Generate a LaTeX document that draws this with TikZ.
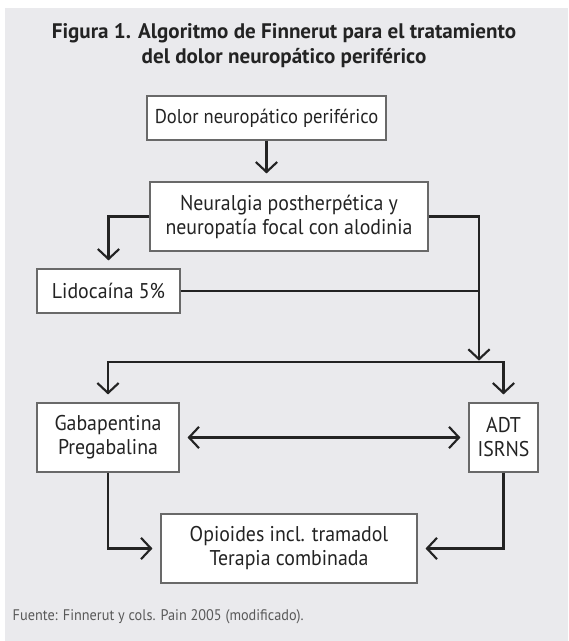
\documentclass[tikz,border=0pt]{standalone}
\usepackage{fontspec}
\setmainfont{PT Sans}[FakeStretch=0.93]
\newfontfamily\titulofont{PT Sans}
\usetikzlibrary{arrows.meta}

\definecolor{fondo}{RGB}{234,234,237}
\definecolor{texto}{RGB}{35,35,35}
\definecolor{borde}{RGB}{105,105,105}

\tikzset{
caja/.style={draw=borde, fill=white, line width=0.8pt, text=texto, align=center, inner sep=0pt, font=\fontsize{16}{18}\selectfont},
linea/.style={line width=1.6pt, draw=texto},
flecha/.style={linea, -{Straight Barb[length=7.5pt,width=16pt]}, shorten >=6pt},
doble/.style={linea, {Straight Barb[length=7.5pt,width=16pt]}-{Straight Barb[length=7.5pt,width=16pt]}, shorten >=6pt, shorten <=6pt}
}

\begin{document}
\begin{tikzpicture}[x=0.75pt,y=-0.75pt]
\useasboundingbox (0,0) rectangle (568,641);
\fill[fondo] (5,8) rectangle (568,641);

\node[text=texto, align=center, font=\titulofont\bfseries\fontsize{15.8}{18.75}\selectfont] (titulo) at (284,46) {Figura 1. Algoritmo de Finnerut para el tratamiento\\del dolor neuropático periférico};

% cajas
\node[caja, minimum width=179.25pt, minimum height=33pt, font=\fontsize{15}{18}\selectfont] (dolor) at (266.5,118) {Dolor neuropático periférico};
\node[caja, minimum width=208.5pt, minimum height=51.75pt] (neur) at (289,216.5) {Neuralgia postherpética y\\neuropatía focal con alodinia};
\node[caja, minimum width=107.25pt, minimum height=33pt] (lido) at (108.5,291) {Lidocaína 5\%};
\node[caja, minimum width=106.5pt, minimum height=51.75pt] (gaba) at (108,437.5) {Gabapentina\\Pregabalina};
\node[caja, minimum width=51.75pt, minimum height=51.75pt] (adt) at (503.5,437.5) {ADT\\ISRNS};
\node[caja, minimum width=192pt, minimum height=51.75pt] (opio) at (289,548.5) {Opioides incl. tramadol\\Terapia combinada};

\node[anchor=west, text=black!65, font=\fontsize{11.5}{13}\selectfont] (fuente) at (8,617) {Fuente: Finnerut y cols. Pain 2005 (modificado).};

\coordinate (nudo) at (479,362);

% flechas
\draw[flecha] (dolor.south) -- (dolor.south |- neur.north);
\draw[flecha] (neur.west) -| (lido.north);
\draw[flecha, shorten >=1pt] (neur.east) -| (nudo);
\draw[linea] (lido.east) -- (lido.east -| nudo);
\draw[doble] (gaba.north) |- (nudo) -| (adt.north);
\draw[doble] (gaba.east) -- (adt.west);
\draw[flecha] (gaba.south) |- (opio.west);
\draw[flecha] (adt.south) |- (opio.east);
\end{tikzpicture}
\end{document}
